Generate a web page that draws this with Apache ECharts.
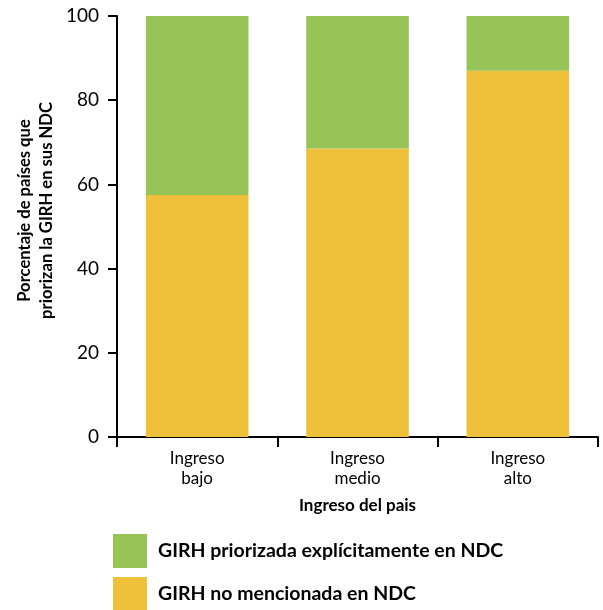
<!DOCTYPE html>
<html>
<head>
<meta charset="utf-8">
<script src="https://cdn.jsdelivr.net/npm/echarts@6/dist/echarts.min.js"></script>
<style>
  html, body { margin: 0; padding: 0; background: #fff; }
  #chart { width: 603px; height: 610px; }
</style>
</head>
<body>
<div id="chart"></div>
<script>
// Income groups on the x axis
const categories = ['Ingreso\nbajo', 'Ingreso\nmedio', 'Ingreso\nalto'];
// Share of countries (%) where IWRM is not mentioned in the NDC
const noMencionada = [57.5, 68.5, 87];
// Share of countries (%) where IWRM is explicitly prioritised in the NDC
const priorizada = [42.5, 31.5, 13];
// Y axis ticks
const yTicks = [0, 20, 40, 60, 80, 100];
// Legend entries, top to bottom
const legendNames = ['GIRH priorizada explícitamente en NDC', 'GIRH no mencionada en NDC'];

const font = 'Lato, "Open Sans", sans-serif';
const chart = echarts.init(document.getElementById('chart'));

// one legend block per entry so they stack vertically near the bottom edge
const legendBase = {
  orient: 'vertical',
  left: 113,
  padding: 0,
  itemWidth: 34,
  itemHeight: 34,
  icon: 'rect',
  textStyle: { fontSize: 19.5, fontWeight: 'bold', color: '#000', fontFamily: font, padding: [0, 0, 0, 6] }
};

chart.setOption({
  animation: false,
  textStyle: { fontFamily: font, color: '#000' },
  grid: { left: 117, right: 5, top: 16, bottom: 173, outerBoundsMode: 'none', containLabel: false },
  legend: [
    Object.assign({}, legendBase, { top: 534, data: [legendNames[0]] }),
    Object.assign({}, legendBase, { top: 577, data: [legendNames[1]] })
  ],
  xAxis: {
    type: 'category',
    data: categories,
    name: 'Ingreso del pais',
    nameLocation: 'middle',
    nameGap: 60,
    nameMoveOverlap: false,
    nameTextStyle: { fontSize: 17, fontWeight: 'bold', color: '#000' },
    axisLine: { lineStyle: { color: '#000', width: 2 } },
    axisTick: { show: true, length: 10, lineStyle: { color: '#000', width: 2 } },
    axisLabel: { fontSize: 17, color: '#000', margin: 12, lineHeight: 20 }
  },
  yAxis: {
    type: 'value',
    min: yTicks[0],
    max: yTicks[yTicks.length - 1],
    interval: 20,
    name: 'Porcentaje de países que\npriorizan la GIRH en sus NDC',
    nameLocation: 'middle',
    nameRotate: 90,
    nameGap: 59,
    nameMoveOverlap: false,
    nameTextStyle: { fontSize: 16.6, fontWeight: 'bold', color: '#000', lineHeight: 22, padding: [0, 0, 0, 32] },
    axisLine: { show: true, lineStyle: { color: '#000', width: 2 } },
    axisTick: { show: true, length: 9, lineStyle: { color: '#000', width: 2 } },
    axisLabel: { fontSize: 19, color: '#000', margin: 18 },
    splitLine: { show: false }
  },
  series: [
    {
      name: legendNames[1],
      type: 'bar',
      stack: 'total',
      barWidth: '64%',
      itemStyle: { color: '#EFC03A' },
      data: noMencionada
    },
    {
      name: legendNames[0],
      type: 'bar',
      stack: 'total',
      barWidth: '64%',
      itemStyle: { color: '#96C457' },
      data: priorizada
    }
  ]
});
</script>
</body>
</html>
